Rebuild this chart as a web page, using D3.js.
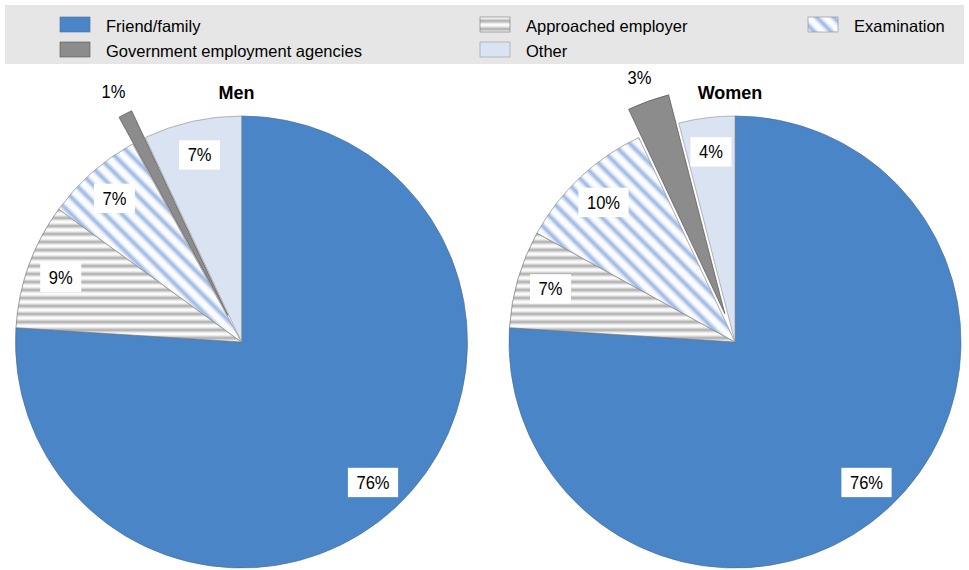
<!DOCTYPE html>
<html>
<head>
<meta charset="utf-8">
<script src="https://cdn.jsdelivr.net/npm/d3@7/dist/d3.min.js"></script>
<style>
  html, body { margin: 0; padding: 0; background: #fff; }
  svg { display: block; font-family: "Liberation Sans", Arial, sans-serif; }
</style>
</head>
<body>
<svg id="chart" width="969" height="570"></svg>
<script>
// Job-search channels, share of respondents (%)
const categories = ["Friend/family", "Approached employer", "Examination", "Government employment agencies", "Other"];
const panels = ["Men", "Women"];
const menValues = [76, 9, 7, 1, 7];
const womenValues = [76, 7, 10, 3, 4];
const explodedCategories = ["Government employment agencies"];

const svg = d3.select("#chart");
const defs = svg.append("defs");

// Horizontal soft grey stripes
const gH = defs.append("linearGradient").attr("id", "gradH")
  .attr("x1", 0).attr("y1", 0).attr("x2", 0).attr("y2", 1);
[[0, "#ffffff"], [0.15, "#f2f2f2"], [0.38, "#c4c4c4"], [0.5, "#ababab"], [0.62, "#c4c4c4"], [0.85, "#f2f2f2"], [1, "#ffffff"]]
  .forEach(([o, c]) => gH.append("stop").attr("offset", o).attr("stop-color", c));
defs.append("pattern").attr("id", "stripesH").attr("patternUnits", "userSpaceOnUse")
  .attr("width", 8).attr("height", 8)
  .append("rect").attr("width", 8).attr("height", 8).attr("fill", "url(#gradH)");

// Diagonal soft blue stripes
const gD = defs.append("linearGradient").attr("id", "gradD")
  .attr("x1", 0).attr("y1", 0).attr("x2", 1).attr("y2", 0);
[[0, "#ffffff"], [0.2, "#f4f7fd"], [0.38, "#bccfee"], [0.5, "#97b3e0"], [0.62, "#bccfee"], [0.8, "#f4f7fd"], [1, "#ffffff"]]
  .forEach(([o, c]) => gD.append("stop").attr("offset", o).attr("stop-color", c));
defs.append("pattern").attr("id", "stripesD").attr("patternUnits", "userSpaceOnUse")
  .attr("width", 12).attr("height", 12).attr("patternTransform", "rotate(-45)")
  .append("rect").attr("width", 12).attr("height", 12).attr("fill", "url(#gradD)");

const color = d3.scaleOrdinal()
  .domain(categories)
  .range(["#4a86c7", "url(#stripesH)", "url(#stripesD)", "#8c8c8c", "#d9e3f2"]);
const strokeColor = d3.scaleOrdinal()
  .domain(categories)
  .range(["#4a6f9a", "#777777", "#8a8a8a", "#555555", "#999999"]);

// Legend
const legend = svg.append("g");
legend.append("rect").attr("x", 5).attr("y", 5).attr("width", 959).attr("height", 59).attr("fill", "#e6e6e6");
const legendCols = [60, 480, 808];
const legendRows = [17, 42];
const legendItems = legend.selectAll("g.item").data(categories).join("g")
  .attr("class", "item")
  .attr("transform", (d, i) => `translate(${legendCols[i % 3]},${legendRows[Math.floor(i / 3)]})`);
legendItems.append("rect")
  .attr("width", 30).attr("height", 15)
  .attr("fill", d => color(d))
  .attr("stroke", d => strokeColor(d)).attr("stroke-width", 0.6);
legendItems.append("text")
  .attr("x", 46).attr("y", 14.5)
  .attr("font-size", 16.5).attr("fill", "#000")
  .text(d => d);

// Pies
const radius = 226;
const pieCenters = d3.scalePoint().domain(panels).range([241.5, 735]);
const pieY = 342;
const explodeOffset = 30;
const labelSquash = 0.87; // condensed look for value labels

const pie = d3.pie().sort(null).value(d => d.value);
const arc = d3.arc().innerRadius(0).outerRadius(radius);

[menValues, womenValues].forEach((vals, p) => {
  const panel = panels[p];
  const cx = pieCenters(panel);
  const g = svg.append("g").attr("transform", `translate(${cx},${pieY})`);
  const data = categories.map((c, i) => ({ category: c, value: vals[i] }));
  const arcs = pie(data);

  const offsetOf = d => {
    if (!explodedCategories.includes(d.data.category)) return [0, 0];
    const a = (d.startAngle + d.endAngle) / 2;
    return [Math.sin(a) * explodeOffset, -Math.cos(a) * explodeOffset];
  };

  g.selectAll("path").data(arcs).join("path")
    .attr("d", arc)
    .attr("transform", d => `translate(${offsetOf(d)})`)
    .attr("fill", d => color(d.data.category))
    .attr("stroke", d => strokeColor(d.data.category))
    .attr("stroke-width", 0.7)
    .attr("stroke-linejoin", "round");

  // Value labels: boxed inside the slice, plain outside for exploded slices
  arcs.forEach(d => {
    const a = (d.startAngle + d.endAngle) / 2;
    const outside = explodedCategories.includes(d.data.category);
    const r = outside ? radius + 56 : radius * 0.85;
    const x = Math.sin(a) * r, y = -Math.cos(a) * r;
    const lg = g.append("g").attr("transform", `translate(${x},${y})`);
    const t = lg.append("text")
      .attr("text-anchor", "middle").attr("dy", "0.36em")
      .attr("transform", `scale(${labelSquash},1)`)
      .attr("font-size", 19).attr("fill", "#000")
      .text(d.data.value + "%");
    if (!outside) {
      const bb = t.node().getBBox();
      const w = bb.width * labelSquash;
      lg.insert("rect", "text")
        .attr("x", -w / 2 - 8.5).attr("y", bb.y - 4)
        .attr("width", w + 17).attr("height", bb.height + 8)
        .attr("fill", "#fff");
    }
  });

  svg.append("text")
    .attr("x", cx - 5).attr("y", 99)
    .attr("text-anchor", "middle")
    .attr("font-size", 18).attr("font-weight", "bold").attr("fill", "#000")
    .text(panel);
});
</script>
</body>
</html>
